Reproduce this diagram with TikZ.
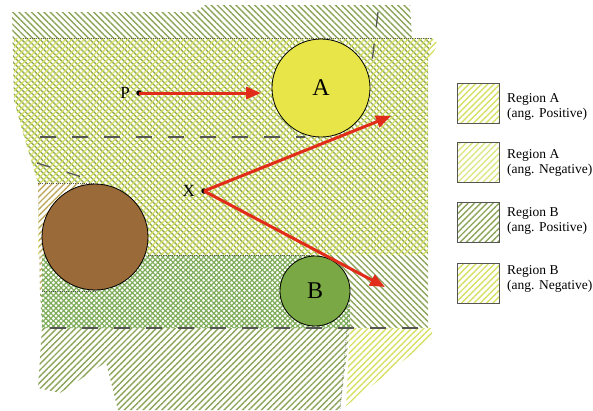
\documentclass[tikz,border=0pt]{standalone}
\usepackage{fontspec}
\setmainfont{Liberation Serif}
\usetikzlibrary{patterns.meta,arrows.meta}
\definecolor{oliveL}{RGB}{140,165,90}
\definecolor{yellowL}{RGB}{214,224,100}
\definecolor{greenL}{RGB}{125,172,88}
\definecolor{tanL}{RGB}{190,170,95}
\definecolor{circA}{RGB}{231,229,72}
\definecolor{circB}{RGB}{122,168,68}
\definecolor{circC}{RGB}{154,106,56}
\definecolor{arrowR}{RGB}{224,44,24}
\definecolor{dashG}{RGB}{85,85,85}
\tikzset{
  hNW/.style={pattern={Lines[angle=-45,distance=4.4pt,line width=1.4pt]}},
  hNE/.style={pattern={Lines[angle=45,distance=4.4pt,line width=1.4pt]}},
  hNWd/.style={pattern={Lines[angle=-45,distance=3.6pt,line width=1.2pt]}},
  hNEd/.style={pattern={Lines[angle=45,distance=3.6pt,line width=1.2pt]}},
  dashln/.style={draw=dashG,line width=1.5pt,dash pattern=on 16pt off 16pt},
  dotln/.style={draw=dashG,line width=0.6pt,dash pattern=on 0.6pt off 1.6pt},
  ball/.style={circle,draw=black,line width=0.8pt,inner sep=0pt},
  dot/.style={circle,fill=black,inner sep=0pt,minimum size=5.5pt},
  redarrow/.style={draw=arrowR,line width=3pt,-{Triangle[length=15pt,width=12pt]}},
  lbl/.style={font=\fontsize{17}{17}\selectfont},
  biglbl/.style={font=\fontsize{24}{24}\selectfont},
  legbox/.style={draw=dashG,line width=0.9pt,minimum width=42pt,minimum height=40pt,inner sep=0pt},
  legtxt/.style={anchor=west,align=left,font=\fontsize{13.5}{15}\selectfont,inner sep=0pt}
}
\begin{document}
\begin{tikzpicture}[x=1pt,y=-1pt]
\useasboundingbox (0,0) rectangle (593,410);
% upper olive "\" region
\path[hNW,pattern color=oliveL] (12,12) -- (195,12) -- (205,5) -- (410,5) -- (412,38) -- (432,38) -- (428,60) -- (428,328) -- (42,328) -- (40,291) -- (38,183) -- (23,133) -- (14,100) -- cycle;
% yellow "/" region
\path[hNE,pattern color=yellowL] (14,38) -- (432,38) -- (438,44) -- (428,62) -- (428,255) -- (38,255) -- (38,183) -- (23,133) -- (14,100) -- cycle;
% region left of brown circle
\path[fill=white] (38,183) -- (95,183) -- (95,291) -- (40,291) -- cycle;
\path[hNE,pattern color=tanL] (38,183) -- (95,183) -- (95,291) -- (40,291) -- cycle;
% green cross-hatched band
\path[fill=white] (42,255) -- (315,255) -- (350,300) -- (350,328) -- (42,328) -- cycle;
\path[hNEd,pattern color=greenL] (42,255) -- (315,255) -- (350,300) -- (350,328) -- (42,328) -- cycle;
\path[hNWd,pattern color=greenL] (42,255) -- (315,255) -- (350,300) -- (350,328) -- (42,328) -- cycle;
% lower olive "/" region
\path[hNE,pattern color=oliveL] (42,328) -- (350,328) -- (340,410) -- (118,410) -- (106,362) -- (60,393) -- (38,388) -- cycle;
% lower right yellow "/" region
\path[hNE,pattern color=yellowL] (350,328) -- (432,328) -- (432,338) -- (346,406) -- cycle;
% dotted lines
\coordinate (d1a) at (23,38);  \coordinate (d1b) at (432,38);
\coordinate (d2a) at (38,183); \coordinate (d2b) at (95,183);
\coordinate (d3a) at (42,291); \coordinate (d3b) at (95,291);
\coordinate (d4a) at (148,255); \coordinate (d4b) at (315,255);
\coordinate (d5a) at (349,305); \coordinate (d5b) at (340,410);
\draw[dotln] (d1a) -- (d1b);
\draw[dotln] (d2a) -- (d2b);
\draw[dotln] (d3a) -- (d3b);
\draw[dotln] (d4a) -- (d4b);
\draw[dotln] (d5a) -- (d5b);
% dashed lines
\coordinate (e1a) at (40,137); \coordinate (e1b) at (305,137);
\coordinate (e2a) at (50,328); \coordinate (e2b) at (432,328);
\coordinate (e3a) at (378,12); \coordinate (e3b) at (372,62);
\coordinate (e4a) at (37,163); \coordinate (e4b) at (82,177);
\draw[dashln] (e1a) -- (e1b);
\draw[dashln] (e2a) -- (e2b);
\draw[draw=dashG,line width=1.3pt,dash pattern=on 15pt off 17pt] (e3a) -- (e3b);
\draw[draw=dashG,line width=1.3pt,dash pattern=on 14pt off 17pt] (e4a) -- (e4b);
% circles
\node[ball,fill=circA,minimum size=98pt,biglbl] (A) at (321,88) {A};
\node[ball,fill=circB,minimum size=70pt,biglbl] (B) at (315,291) {B};
\node[ball,fill=circC,minimum size=106pt] (C) at (95,237) {};
% points and arrows
\node[dot] (P) at (139,93) {};
\node[dot] (X) at (204,191) {};
\node[lbl,anchor=east,inner sep=0pt] (Pl) at (130,93) {P};
\node[lbl,anchor=east,inner sep=0pt] (Xl) at (195,191) {X};
\coordinate (tP) at (261,93);
\coordinate (tX1) at (391,116);
\coordinate (tX2) at (385,287);
\draw[redarrow] (P.center) -- (tP);
\draw[redarrow] (X.center) -- (tX1);
\draw[redarrow] (X.center) -- (tX2);
% legend
\node[legbox,hNE,pattern color=yellowL] (L1) at (478,103) {};
\node[legbox,hNE,pattern color=yellowL!80] (L2) at (478,162.5) {};
\node[legbox,hNE,pattern color=oliveL] (L3) at (478,222.5) {};
\node[legbox,hNE,pattern color=yellowL] (L4) at (478,283) {};
\node[legtxt] (T1) at (507,107) {Region A\\(ang. Positive)};
\node[legtxt] (T2) at (507,162.5) {Region A\\(ang. Negative)};
\node[legtxt] (T3) at (507,221) {Region B\\(ang. Positive)};
\node[legtxt] (T4) at (507,279) {Region B\\(ang. Negative)};
\end{tikzpicture}
\end{document}
